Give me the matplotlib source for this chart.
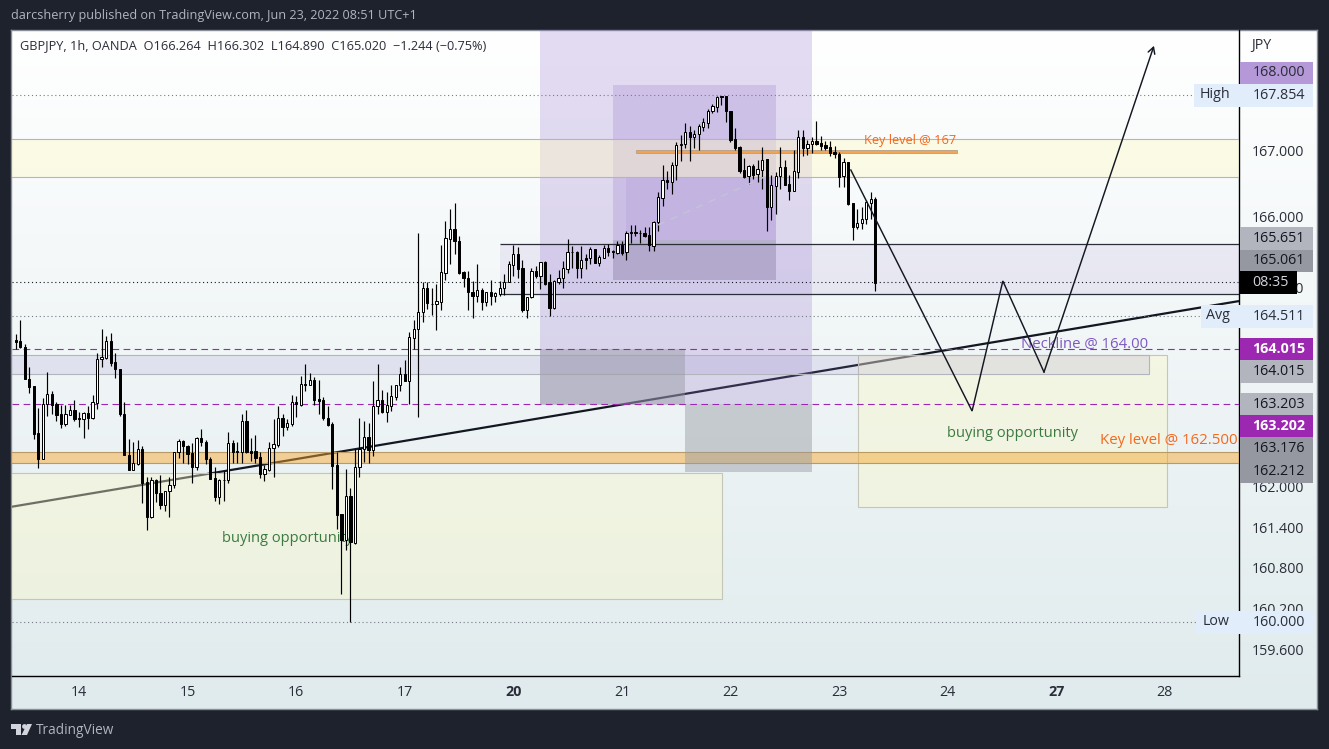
import numpy as np
import matplotlib
matplotlib.use("Agg")
import matplotlib.pyplot as plt
from matplotlib.patches import Rectangle, Polygon, Circle
from matplotlib.transforms import ScaledTranslation

plt.rcParams['font.family'] = ['Open Sans', 'DejaVu Sans']

W, H = 1329, 749
DARK = '#1e222d'

# hourly candles, hour 0 = 14 Jun 00:00 (weekend gap removed)
first_hour = -14
opens = [
 164.21,164.19,164.10,163.62,163.52,162.82,162.44,163.25,163.40,163.25,
 163.10,162.96,163.09,163.17,163.04,163.03,163.12,163.05,163.27,163.92,
 163.94,164.20,163.88,163.77,163.11,162.50,162.27,162.36,162.58,162.09,
 161.57,162.12,161.93,161.75,161.95,162.04,162.53,162.70,162.62,162.52,
 162.32,162.74,162.68,162.44,162.15,161.87,162.12,162.12,162.67,162.55,
 162.54,163.00,162.55,162.55,162.46,162.21,162.27,162.59,162.64,163.04,
 162.91,162.96,163.28,163.24,163.55,163.53,163.61,163.33,163.31,163.05,
 162.96,162.34,161.61,161.23,161.88,161.18,162.32,162.58,162.76,162.56,
 163.23,163.32,163.14,163.23,163.36,163.53,163.70,163.59,164.24,164.37,
 164.62,164.98,164.75,164.74,164.78,165.21,165.72,165.87,165.68,165.22,
 165.14,164.92,164.87,164.96,164.77,164.92,164.87,164.90,164.98,165.07,
 165.33,165.49,165.28,164.65,164.85,165.24,165.16,165.37,165.07,164.69,
 165.08,165.13,165.27,165.52,165.52,165.29,165.43,165.43,165.57,165.36,
 165.44,165.58,165.53,165.51,165.63,165.52,165.82,165.82,165.81,165.81,
 165.78,165.61,165.97,166.33,166.59,166.56,166.82,167.12,167.14,167.32,
 167.24,167.29,167.39,167.45,167.62,167.69,167.85,167.85,167.63,167.21,
 167.09,166.75,166.65,166.80,166.68,166.75,166.91,166.20,166.51,166.65,
 166.79,166.54,166.44,166.72,167.24,167.08,167.13,167.18,167.15,167.12,
 167.09,167.02,166.98,166.65,166.86,166.25,165.89,165.95,166.02,166.26,
 166.31]
highs = [
 164.30,164.51,164.15,163.80,163.52,163.19,163.35,163.73,163.45,163.28,
 163.24,163.24,163.24,163.31,163.14,163.14,163.22,163.39,164.01,164.38,
 164.27,164.31,164.01,163.77,163.28,162.73,162.68,162.71,162.63,162.16,
 162.16,162.14,162.19,161.95,162.17,162.53,162.73,162.72,162.64,162.67,
 162.76,162.88,162.72,162.46,162.31,162.14,162.26,162.84,162.71,162.69,
 163.10,163.16,162.75,162.79,162.54,162.34,162.68,163.03,163.22,163.11,
 163.03,163.39,163.37,163.67,163.85,163.71,163.65,163.61,163.36,163.22,
 162.99,162.54,161.61,162.28,162.00,162.58,163.04,163.00,162.97,163.59,
 163.85,163.46,163.44,163.54,163.53,163.81,163.91,164.33,164.51,165.81,
 165.07,165.07,164.99,165.05,165.63,165.98,166.17,166.26,165.76,165.24,
 165.24,165.09,165.35,164.98,164.93,165.11,164.93,165.09,165.19,165.39,
 165.63,165.59,165.40,164.85,165.29,165.32,165.37,165.39,165.20,165.10,
 165.25,165.39,165.71,165.61,165.53,165.61,165.50,165.59,165.57,165.48,
 165.63,165.64,165.55,165.69,165.69,165.83,165.93,165.93,165.85,165.90,
 165.90,165.99,166.42,166.82,166.73,166.86,167.17,167.27,167.45,167.41,
 167.34,167.43,167.52,167.66,167.73,167.85,167.854,167.854,167.63,167.37,
 167.10,166.93,166.82,166.84,166.89,167.09,166.91,166.67,166.71,167.09,
 166.89,166.67,167.05,167.35,167.34,167.19,167.24,167.48,167.25,167.18,
 167.18,167.10,167.02,166.93,166.86,166.25,166.17,166.19,166.30,166.42,
 166.34]
lows = [
 164.07,164.09,163.62,163.42,162.73,162.30,162.44,163.08,163.10,163.00,
 162.90,162.93,163.09,163.00,162.91,162.75,162.88,163.03,163.18,163.80,
 163.93,163.82,163.64,163.07,162.50,162.27,162.27,162.35,161.78,161.38,
 161.55,161.79,161.68,161.66,161.57,162.00,162.45,162.37,162.36,162.07,
 162.27,162.63,162.36,162.14,161.80,161.76,161.81,162.08,162.38,162.38,
 162.37,162.52,162.41,162.38,162.15,162.10,162.25,162.17,162.61,162.77,
 162.86,162.93,163.06,163.22,163.45,163.53,163.24,163.10,163.01,162.93,
 161.99,161.39,160.42,161.07,160.00,161.16,162.17,162.39,162.38,162.48,
 163.10,163.12,162.98,163.15,163.32,163.45,163.59,163.25,164.07,163.06,
 164.48,164.67,164.58,164.36,164.66,165.10,165.35,165.50,165.19,165.00,
 164.66,164.54,164.78,164.65,164.72,164.73,164.78,164.86,164.88,165.07,
 165.17,165.14,164.63,164.54,164.84,165.14,164.97,165.03,164.56,164.67,
 165.05,164.99,165.21,165.28,165.14,165.14,165.27,165.35,165.36,165.31,
 165.43,165.47,165.43,165.49,165.48,165.41,165.66,165.76,165.66,165.74,
 165.54,165.54,165.83,166.21,166.46,166.39,166.60,166.88,167.07,166.88,
 167.07,167.05,167.33,167.38,167.59,167.61,167.72,167.47,167.17,167.04,
 166.70,166.63,166.54,166.61,166.56,166.47,165.83,166.00,166.09,166.47,
 166.52,166.30,166.44,166.62,166.95,166.97,167.00,167.12,167.04,167.04,
 166.95,166.93,166.49,166.50,166.22,165.70,165.87,165.87,165.94,166.02,
 164.94]
closes = [
 164.18,164.10,163.62,163.51,162.81,162.44,163.26,163.40,163.24,163.09,
 162.96,163.10,163.17,163.03,163.03,163.12,163.05,163.28,163.92,163.95,
 164.20,163.87,163.77,163.10,162.50,162.27,162.37,162.58,162.08,161.57,
 162.12,161.93,161.75,161.95,162.04,162.53,162.70,162.62,162.51,162.32,
 162.75,162.68,162.44,162.14,161.87,162.12,162.12,162.67,162.54,162.54,
 163.00,162.53,162.52,162.45,162.21,162.28,162.59,162.66,163.04,162.91,
 162.97,163.28,163.25,163.55,163.53,163.61,163.32,163.30,163.05,162.94,
 162.33,161.60,161.22,161.88,161.19,162.32,162.58,162.76,162.56,163.23,
 163.32,163.14,163.24,163.37,163.53,163.70,163.59,164.25,164.37,164.63,
 164.98,164.76,164.74,164.79,165.22,165.73,165.86,165.68,165.21,165.14,
 164.92,164.87,164.95,164.77,164.92,164.87,164.91,164.98,165.07,165.34,
 165.49,165.27,164.65,164.85,165.24,165.16,165.37,165.05,164.69,165.09,
 165.13,165.28,165.52,165.52,165.28,165.41,165.40,165.57,165.36,165.45,
 165.58,165.52,165.52,165.62,165.51,165.80,165.80,165.80,165.80,165.76,
 165.62,165.97,166.34,166.59,166.56,166.82,167.12,167.14,167.32,167.24,
 167.29,167.40,167.46,167.63,167.70,167.84,167.83,167.62,167.20,167.07,
 166.73,166.64,166.80,166.67,166.76,166.90,166.20,166.52,166.65,166.79,
 166.52,166.44,166.73,167.24,167.08,167.13,167.18,167.13,167.10,167.07,
 167.00,166.98,166.64,166.86,166.24,165.89,165.95,166.02,166.27,166.31,
 165.06]

# axis tick content
price_ticks = [167.0, 166.0, 165.0, 162.0, 161.4, 160.8, 160.2, 159.6]
tick_nudge_px = [3, 4, 0, 2, 1, 1, 0, -1]
day_hours = [0, 24, 48, 72, 96, 120, 144, 168, 192, 216, 240]
day_labels = ['14', '15', '16', '17', '20', '21', '22', '23', '24', '27', '28']
bold_days = ['20', '27']

# horizontal levels (price)
level_high = 167.866
level_low = 160.0
level_last = 165.07
level_avg = 164.567
level_dash_upper = 164.07
level_dash_lower = 163.249
level_box_top = 165.637
level_box_bottom = 164.891

# drawn projection (hour, price)
path_hours = [170.6, 197.4, 204.2, 213.3]
path_prices = [166.746, 163.149, 165.09, 163.73]
arrow_tip = (237.6, 168.6)
trend_hours = [-14.9, 256.4]
trend_prices = [161.72, 164.79]

# price scale: px = 622 - (price - 160) * 67
px_per_price = 67.0
left_px, right_px, top_px, bottom_px = 11.5, 1239.0, 30.0, 675.5
ymax = 160 + (622 - top_px) / px_per_price
ymin = 160 + (622 - bottom_px) / px_per_price
xmin, xmax = -14.92, 256.4
off_left = xmin - 3

fig = plt.figure(figsize=(W / 100, H / 100), dpi=100, facecolor=DARK)

# gradient panel
bg = fig.add_axes([11 / W, (H - 709) / H, (1317 - 11) / W, (709 - 30) / H], zorder=1)
top_c = np.array([255, 255, 255]) / 255
bot_c = np.array([224, 235, 237]) / 255
grad = np.linspace(0, 1, 256)[:, None, None] * (bot_c - top_c) + top_c
bg.imshow(grad, aspect='auto', extent=(0, 1, 0, 1))
bg.set_xticks([]); bg.set_yticks([])
for s in bg.spines.values():
    s.set_color('#8a8e98'); s.set_linewidth(1)

ax = fig.add_axes([left_px / W, (H - bottom_px) / H, (right_px - left_px) / W,
                   (bottom_px - top_px) / H], zorder=5)
ax.patch.set_visible(False)
ax.set_xlim(xmin, xmax)
ax.set_ylim(ymin, ymax)
for k in ('top', 'left'):
    ax.spines[k].set_visible(False)
for k in ('right', 'bottom'):
    ax.spines[k].set_color('black'); ax.spines[k].set_linewidth(1.0)

ax.yaxis.tick_right()
ax.set_yticks(price_ticks)
ax.set_yticklabels([f'{p:.3f}' for p in price_ticks], fontsize=10.3, color='#2a2e39')
ax.tick_params(axis='y', length=0, pad=9)
for tick, nudge in zip(ax.yaxis.get_major_ticks(), tick_nudge_px):
    tick.label2.set_transform(tick.label2.get_transform() +
                              ScaledTranslation(0, nudge / 100, fig.dpi_scale_trans))
ax.set_xticks(day_hours)
ax.set_xticklabels(day_labels, fontsize=10.3, color='#2a2e39')
ax.tick_params(axis='x', length=0, pad=6.5)
for lab in ax.get_xticklabels():
    if lab.get_text() in bold_days:
        lab.set_fontweight('bold')

def box(x0, x1, y0, y1, fc, alpha, ec='none', z=3, lw=0.8):
    ax.add_patch(Rectangle((x0, y0), x1 - x0, y1 - y0, facecolor=matplotlib.colors.to_rgba(fc, alpha),
                           edgecolor=ec, linewidth=lw, zorder=z))

# trend line sits under the zones
ax.plot(trend_hours, trend_prices, color='#131722', lw=1.6, zorder=2, solid_capstyle='butt')

purple = '#9575cd'
grey = '#9598a1'
edge = '#b2b5be'
# purple zones
box(101.9, 162.0, level_dash_lower, ymax, purple, 0.25, z=2.2)
box(118.0, 154.07, 165.104, 168.015, purple, 0.25, z=2.3)
box(120.9, 154.07, 165.701, 166.642, purple, 0.15, z=2.4)
box(118.0, 154.07, 165.104, 165.701, grey, 0.32, z=2.5)
# horizontal bands
box(93.06, xmax + 3, level_box_bottom, level_box_top, purple, 0.12, z=2.6)
box(off_left, xmax + 3, 166.637, 167.204, '#fff9c4', 0.4, ec=edge, z=2.7)
box(off_left, 142.1, 160.339, 162.219, '#fbf8c8', 0.4, ec='#c4c6b8', z=2.8)
box(172.2, 240.5, 161.712, 163.98, '#fbf8c8', 0.4, ec='#c4c6b8', z=2.8)
box(off_left, 236.4, 163.697, 163.98, '#8f7fc8', 0.16, ec=edge, z=2.85)
box(off_left, xmax + 3, 162.369, 162.542, '#f7a72e', 0.47, ec='#b99a66', z=2.9)
# grey zones lie over the orange band
box(101.9, 133.95, 163.235, level_dash_upper, grey, 0.45, z=3.0)
box(133.95, 162.0, 162.239, level_dash_lower, grey, 0.45, z=3.0)

# dotted / dashed levels
dotted = (0, (1, 2.5))
ax.hlines(level_high, xmin, xmax, color='#787b86', lw=0.8, linestyle=dotted, zorder=3.1)
ax.hlines(level_low, xmin, xmax, color='#787b86', lw=0.8, linestyle=dotted, zorder=3.1)
ax.hlines(level_avg, xmin, xmax, color='#787b86', lw=0.8, linestyle=dotted, zorder=3.1)
ax.hlines(level_last, xmin, xmax, color='#131722', lw=0.8, linestyle=dotted, zorder=3.1)
ax.hlines([level_dash_upper, level_dash_lower], xmin, xmax, color='#9c27b0', lw=0.8,
          linestyle=(0, (6, 4)), zorder=3.1)
ax.hlines([level_box_top, level_box_bottom], 93.06, xmax, color='#2a2e39', lw=0.9, zorder=3.1)

# texts under the candles
ax.text(31.6, 161.24, 'buying opportunity', color='#3b7a3e', fontsize=10.55, va='center', zorder=3.5)
ax.text(191.9, 162.806, 'buying opportunity', color='#3b7a3e', fontsize=10.55, va='center', zorder=3.5)

# key level line
box(123.1, 194.1, 167.005, 167.045, '#f4a04a', 0.95, ec='#b2a08a', z=3.6, lw=0.6)
ax.text(173.5, 167.19, 'Key level @ 167', color='#f4681c', fontsize=9.2, va='center', zorder=6)
ax.text(225.7, 162.715, 'Key level @ 162.500', color='#f4681c', fontsize=10.85, va='center', zorder=6)
ax.text(208.2, 164.145, 'Neckline @ 164.00', color='#7e57c2', fontsize=10.7, va='center', zorder=6)

# candles
hours = np.arange(first_hour, first_hour + len(opens))
o = np.array(opens); h = np.array(highs); l = np.array(lows); c = np.array(closes)
ax.vlines(hours, l, h, color='black', lw=0.85, zorder=4)
up = c >= o
ax.bar(hours[up], (c - o)[up], bottom=o[up], width=0.5, facecolor='white', edgecolor='black',
       linewidth=0.72, zorder=4.2)
ax.bar(hours[~up], (o - c)[~up], bottom=c[~up], width=0.5, facecolor='black', edgecolor='black',
       linewidth=0.72, zorder=4.2)

# faint connector and projection
ax.plot([128, 153.4], [165.925, 166.70], color='#c4c4d4', lw=1, linestyle=(0, (5, 5)), zorder=4.1)
ax.plot(path_hours, path_prices, color='#131722', lw=1.05, zorder=6, solid_joinstyle='miter')
ax.annotate('', xy=arrow_tip, xytext=(path_hours[-1], path_prices[-1]),
            arrowprops=dict(arrowstyle='->,head_length=0.45,head_width=0.25', color='#131722', lw=1.05,
                            shrinkA=0, shrinkB=0), zorder=6)

# overlay in pixel coordinates: header, footer, axis badges
ov = fig.add_axes([0, 0, 1, 1], zorder=10)
ov.set_xlim(0, W); ov.set_ylim(H, 0); ov.axis('off'); ov.patch.set_visible(False)

ov.text(11, 15.5, 'darcsherry published on TradingView.com, Jun 23, 2022 08:51 UTC+1',
        color='#b2b5be', fontsize=9.12, va='center')
ov.text(20, 46, 'GBPJPY, 1h, OANDA  O166.264  H166.302  L164.890  C165.020  \u22121.244 (\u22120.75%)',
        color='#2a2e39', fontsize=9.2, va='center')
ov.text(1251, 45, 'JPY', color='#2a2e39', fontsize=10.3, va='center')

badge_labels = ['168.000', '167.854', '165.651', '165.061', '164.511', '164.015', '164.015',
                '163.203', '163.202', '163.176', '162.212', '160.000']
badge_centers = [73, 95.5, 238.5, 261, 316.5, 349, 371.5, 404, 426, 448.5, 471.5, 622.5]
badge_colors = ['#b498d8', '#e1edfb', '#b2b5be', '#9598a1', '#e1edfb', '#9c27b0', '#b2b5be',
                '#b2b5be', '#9c27b0', '#9598a1', '#9598a1', '#e1edfb']
badge_text = ['#2a2e39', '#2a2e39', '#131722', '#131722', '#2a2e39', 'white', '#131722',
              '#131722', 'white', '#131722', '#131722', '#2a2e39']
badge_tags = {'167.854': ('High', 1194), '164.511': ('Avg', 1201), '160.000': ('Low', 1196)}
for lab, yc, col, tc in zip(badge_labels, badge_centers, badge_colors, badge_text):
    x0 = badge_tags[lab][1] if lab in badge_tags else 1239.5
    ov.add_patch(Rectangle((x0, yc - 11.3), 1313 - x0, 22.6, facecolor=col, edgecolor='none'))
    ov.text(1252.3, yc, lab, color=tc, fontsize=10.3, va='center',
            fontweight='bold' if tc == 'white' else 'normal')
    if lab in badge_tags:
        ov.text(1230, yc - 1, badge_tags[lab][0], color='#2a2e39', fontsize=10.3, va='center', ha='right')

ov.add_patch(Rectangle((1239.5, 271), 57.5, 23, facecolor='black', edgecolor='none'))
ov.text(1252, 282.5, '08:35', color='#d1d4dc', fontsize=10.3, va='center')

# footer logo
logo = '#d1d4dc'
ov.add_patch(Polygon([(11, 724), (21, 724), (21, 735), (16, 735), (16, 729), (11, 729)], facecolor=logo, edgecolor='none'))
ov.add_patch(Circle((24.5, 726.5), 2.4, facecolor=logo, edgecolor='none'))
ov.add_patch(Polygon([(27, 724), (32, 724), (27, 735), (21.5, 735)], facecolor=logo, edgecolor='none'))
ov.text(36, 730, 'TradingView', color='#b2b5be', fontsize=9.8, va='center')

fig.savefig('out.png', dpi=100, facecolor=DARK)
